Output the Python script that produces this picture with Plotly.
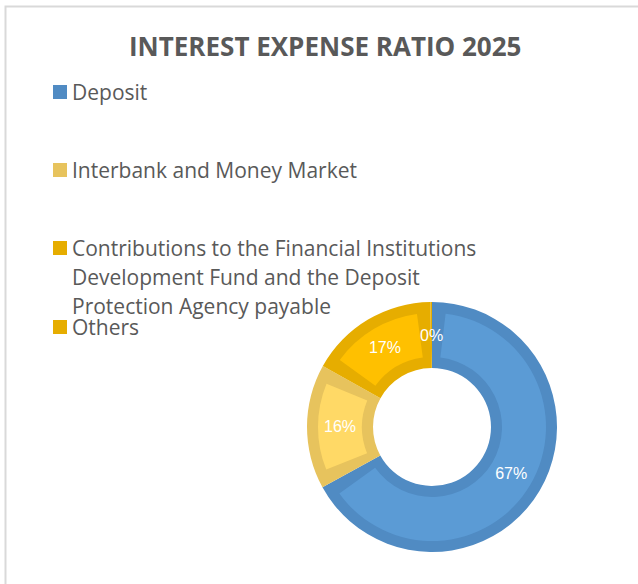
import math
import plotly.graph_objects as go

# ---- data -------------------------------------------------------------
categories = [
    "Deposit",
    "Interbank and Money Market",
    "Contributions to the Financial Institutions Development Fund and the Deposit Protection Agency payable",
    "Others",
]
legend_lines = [
    ["Deposit"],
    ["Interbank and Money Market"],
    ["Contributions to the Financial Institutions",
     "Development Fund and the Deposit",
     "Protection Agency payable"],
    ["Others"],
]
shares = [67.0, 16.1, 16.7, 0.2]          # % of interest expense
title_text = "INTEREST EXPENSE RATIO 2025"

# ---- styling ----------------------------------------------------------
W, H = 638, 584
fill_colors = ["#5B9BD5", "#FFD966", "#FFC000", "#FFC000"]
edge_colors = ["#508BC3", "#E7C35D", "#E6AD00", "#E6AD00"]
text_grey = "#595959"
label_font = dict(family="Liberation Sans, Arial", size=16, color="white")

cx, cy = 432, 427          # donut centre (px from top-left)
r_out, r_in = 125, 59      # ring radii (px)
edge = 11                  # width of the darker rim (px)
tiny = 2.0                 # slices below this share get a free-standing label


def px(x):
    return x / W


def py(y):
    return 1 - y / H


def domain(r):
    return dict(x=[px(cx - r), px(cx + r)], y=[py(cy + r), py(cy - r)])


total = sum(shares)
fig = go.Figure()

# darker full ring (acts as the rim of every slice)
fig.add_trace(go.Pie(
    labels=categories, values=shares, sort=False, direction="clockwise",
    rotation=0, hole=r_in / r_out, domain=domain(r_out),
    marker=dict(colors=edge_colors, line=dict(width=0)),
    textinfo="none", hoverinfo="skip", showlegend=False,
))

# lighter inner body of every slice, inset from the rim on all sides
mid_r = (r_out + r_in) / 2
gap = edge / (2 * math.pi * mid_r) * total
body_vals, body_cols, body_labels = [], [], []
for i, v in enumerate(shares):
    g = min(gap, v / 2)
    body_vals += [g, max(v - 2 * g, 0), g]
    body_cols += ["rgba(0,0,0,0)", fill_colors[i], "rgba(0,0,0,0)"]
    body_labels += [f"{i}a", f"{i}b", f"{i}c"]
r_body_out = r_out - edge
r_body_in = r_in + edge
fig.add_trace(go.Pie(
    labels=body_labels, values=body_vals, sort=False, direction="clockwise",
    rotation=0, hole=r_body_in / r_body_out, domain=domain(r_body_out),
    marker=dict(colors=body_cols, line=dict(width=0)),
    textinfo="none", hoverinfo="skip", showlegend=False,
))

# percentage labels
fig.add_trace(go.Pie(
    labels=categories, values=shares, sort=False, direction="clockwise",
    rotation=0, hole=r_in / r_out, domain=domain(r_out),
    marker=dict(colors=["rgba(0,0,0,0)"] * len(shares), line=dict(width=0)),
    texttemplate="%{percent:.0%}",
    textposition=["inside" if v >= tiny else "none" for v in shares],
    insidetextorientation="horizontal",
    textfont=label_font,
    hovertemplate="%{label}: %{percent:.0%}<extra></extra>",
    showlegend=False,
))

annotations = []

# labels for slices too thin to hold their own text: centred on the ring
cum = 0.0
for v in shares:
    if v < tiny:
        ang = 2 * math.pi * (cum + v / 2) / total
        annotations.append(dict(
            text=f"{v / total:.0%}",
            x=px(cx + mid_r * math.sin(ang)), y=py(cy - mid_r * math.cos(ang)),
            xref="paper", yref="paper", xanchor="center", yanchor="middle",
            showarrow=False, font=label_font,
        ))
    cum += v

# ---- title ------------------------------------------------------------
annotations.append(dict(
    text=f"<b>{title_text}</b>", x=px(325), y=py(46), xref="paper", yref="paper",
    xanchor="center", yanchor="middle", showarrow=False,
    font=dict(family="Open Sans", size=26, color=text_grey),
))

# ---- legend (Excel-like, widely spaced) ------------------------------
legend_y = [92, 170, 248, 327]
line_step = 29
shapes = []
for lines, y0, col in zip(legend_lines, legend_y, edge_colors):
    shapes.append(dict(
        type="rect", xref="paper", yref="paper",
        x0=px(53), x1=px(67), y0=py(y0 - 7), y1=py(y0 + 7),
        fillcolor=col, line=dict(width=0),
    ))
    for k, line in enumerate(lines):
        annotations.append(dict(
            text=line, x=px(70), y=py(y0 + k * line_step), xref="paper", yref="paper",
            xanchor="left", yanchor="middle", showarrow=False,
            font=dict(family="Open Sans", size=21, color=text_grey),
        ))

# chart-area frame
shapes.append(dict(
    type="rect", xref="paper", yref="paper",
    x0=px(5.5), x1=px(W + 20), y0=py(H + 20), y1=py(6.5),
    line=dict(color="#D9D9D9", width=2), fillcolor="rgba(0,0,0,0)", layer="below",
))

fig.update_layout(
    width=W, height=H, margin=dict(l=0, r=0, t=0, b=0),
    paper_bgcolor="white", plot_bgcolor="white",
    uniformtext=dict(minsize=16, mode="show"),
    annotations=annotations, shapes=shapes, showlegend=False,
)

fig.write_html("out.html")
